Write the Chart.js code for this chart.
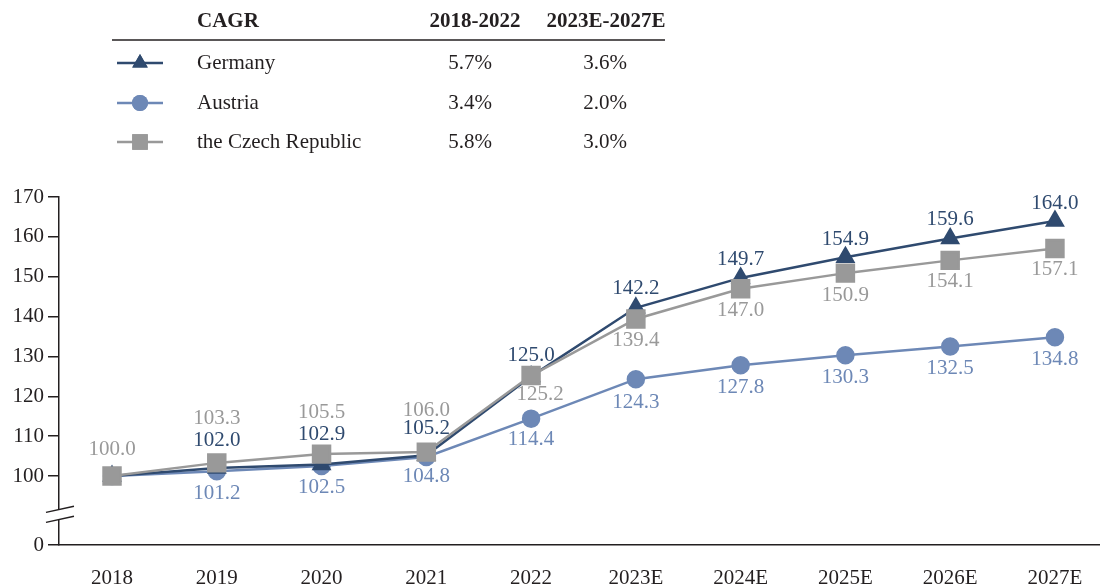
<!DOCTYPE html>
<html>
<head>
<meta charset="utf-8">
<script src="https://cdn.jsdelivr.net/npm/chart.js@4/dist/chart.umd.min.js"></script>
<style>
  html, body { margin: 0; padding: 0; background: #fff; }
  #wrap { width: 1100px; height: 588px; position: relative; }
</style>
</head>
<body>
<div id="wrap"><canvas id="chart" width="1100" height="588"></canvas></div>
<script>
const categories = ["2018", "2019", "2020", "2021", "2022", "2023E", "2024E", "2025E", "2026E", "2027E"];
const germany = [100.0, 102.0, 102.9, 105.2, 125.0, 142.2, 149.7, 154.9, 159.6, 164.0];
const austria = [100.0, 101.2, 102.5, 104.8, 114.4, 124.3, 127.8, 130.3, 132.5, 134.8];
const czech = [100.0, 103.3, 105.5, 106.0, 125.2, 139.4, 147.0, 150.9, 154.1, 157.1];

const seriesNames = ["Germany", "Austria", "the Czech Republic"];
const cagrHeaders = ["CAGR", "2018-2022", "2023E-2027E"];
const cagrHist = ["5.7%", "3.4%", "5.8%"];
const cagrFcst = ["3.6%", "2.0%", "3.0%"];

const yTicks = [0, 100, 110, 120, 130, 140, 150, 160, 170];
const breakValue = 82.7; // where the "0" tick sits below the axis break

const NAVY = "#2f4a6f";
const BLUE = "#6d88b6";
const GREY = "#999999";
const INK = "#231f20";
const FONT = "'Liberation Serif', 'DejaVu Serif', serif";
const FS = 21;

const toPoints = arr => arr.map((v, i) => ({ x: i, y: v }));

// label offsets (dy from point centre); null = no label
const labelPos = {
  0: { dy: [null, -28, -30, -27, -21, -19, -18, -18, -19, -17], dx: [] },
  1: { dy: [null, 22, 21, 20, 21, 23, 22, 22, 22, 22], dx: [] },
  2: { dy: [-27, -44, -42, -42, 19, 22, 22, 22, 21, 21], dx: [0, 0, 0, 0, 9] }
};

const labelsPlugin = {
  id: "pointLabels",
  afterDatasetsDraw(chart) {
    const ctx = chart.ctx;
    ctx.save();
    ctx.font = FS + "px " + FONT;
    ctx.textAlign = "center";
    ctx.textBaseline = "middle";
    chart.data.datasets.forEach((ds, di) => {
      const meta = chart.getDatasetMeta(di);
      const pos = labelPos[di];
      meta.data.forEach((pt, i) => {
        const dy = pos.dy[i];
        if (dy === null || dy === undefined) return;
        const dx = pos.dx[i] || 0;
        ctx.fillStyle = ds.borderColor;
        ctx.fillText(ds.data[i].y.toFixed(1), pt.x + dx, pt.y + dy);
      });
    });
    ctx.restore();
  }
};

const breakPlugin = {
  id: "axisBreak",
  afterDraw(chart) {
    const ctx = chart.ctx;
    const y = chart.scales.y;
    const x0 = chart.chartArea.left;
    const yMid = (y.getPixelForValue(100) + y.getPixelForValue(breakValue)) / 2 + 4;
    const slope = 0.22;
    const gap = 10;
    ctx.save();
    // white gap cutting the axis
    ctx.fillStyle = "#fff";
    ctx.beginPath();
    ctx.moveTo(x0 - 4, yMid - gap / 2 + 4 * slope);
    ctx.lineTo(x0 + 4, yMid - gap / 2 - 4 * slope);
    ctx.lineTo(x0 + 4, yMid + gap / 2 - 4 * slope);
    ctx.lineTo(x0 - 4, yMid + gap / 2 + 4 * slope);
    ctx.closePath();
    ctx.fill();
    ctx.strokeStyle = INK;
    ctx.lineWidth = 1.5;
    [-gap / 2, gap / 2].forEach(off => {
      ctx.beginPath();
      ctx.moveTo(x0 - 13, yMid + off + 13 * slope);
      ctx.lineTo(x0 + 15, yMid + off - 15 * slope);
      ctx.stroke();
    });
    ctx.restore();
  }
};

const tablePlugin = {
  id: "cagrTable",
  afterDraw(chart) {
    const ctx = chart.ctx;
    const colors = [NAVY, BLUE, GREY];
    const styles = ["triangle", "circle", "rect"];
    const rowsY = [63, 103, 142];
    ctx.save();
    ctx.fillStyle = INK;
    ctx.textBaseline = "middle";
    ctx.font = "bold " + FS + "px " + FONT;
    ctx.textAlign = "left";
    ctx.fillText(cagrHeaders[0], 197, 22);
    ctx.textAlign = "center";
    ctx.fillText(cagrHeaders[1], 475, 22);
    ctx.fillText(cagrHeaders[2], 606, 22);
    ctx.strokeStyle = INK;
    ctx.lineWidth = 1.5;
    ctx.beginPath();
    ctx.moveTo(112, 40);
    ctx.lineTo(665, 40);
    ctx.stroke();
    ctx.font = FS + "px " + FONT;
    seriesNames.forEach((name, i) => {
      const ry = rowsY[i];
      ctx.strokeStyle = colors[i];
      ctx.lineWidth = 2.5;
      ctx.beginPath();
      ctx.moveTo(117, ry);
      ctx.lineTo(163, ry);
      ctx.stroke();
      ctx.fillStyle = colors[i];
      Chart.helpers.drawPoint(ctx, { pointStyle: styles[i], radius: [9, 8, 11][i], rotation: 0, borderWidth: 0 }, 140, ry);
      ctx.fill();
      ctx.fillStyle = INK;
      ctx.textAlign = "left";
      ctx.fillText(name, 197, ry);
      ctx.textAlign = "center";
      ctx.fillText(cagrHist[i], 470, ry);
      ctx.fillText(cagrFcst[i], 605, ry);
    });
    ctx.restore();
  }
};

new Chart(document.getElementById("chart"), {
  type: "line",
  data: {
    datasets: [
      {
        label: seriesNames[0],
        data: toPoints(germany),
        borderColor: NAVY,
        backgroundColor: NAVY,
        pointStyle: "triangle",
        pointRadius: 9,
        borderWidth: 2.5,
        order: 1
      },
      {
        label: seriesNames[1],
        data: toPoints(austria),
        borderColor: BLUE,
        backgroundColor: BLUE,
        pointStyle: "circle",
        pointRadius: 8,
        borderWidth: 2.5,
        order: 2
      },
      {
        label: seriesNames[2],
        data: toPoints(czech),
        borderColor: GREY,
        backgroundColor: GREY,
        pointStyle: "rect",
        pointRadius: 12,
        borderWidth: 2.5,
        order: 0
      }
    ]
  },
  options: {
    responsive: false,
    animation: false,
    events: [],
    layout: { autoPadding: false, padding: { top: 197, left: 0, right: 0, bottom: 0 } },
    elements: { point: { borderWidth: 0, hoverRadius: 0 }, line: { tension: 0 } },
    plugins: { legend: { display: false }, tooltip: { enabled: false } },
    scales: {
      x: {
        type: "linear",
        min: -0.506,
        max: 9.43,
        afterBuildTicks(scale) {
          scale.ticks = categories.map((c, i) => ({ value: i }));
        },
        afterFit(scale) {
          scale.height = 43;
          scale.paddingLeft = 0;
          scale.paddingRight = 0;
        },
        grid: { display: false, drawTicks: false },
        border: { display: true, color: INK, width: 1.5 },
        ticks: {
          color: INK,
          font: { family: FONT, size: FS },
          padding: 21,
          maxRotation: 0,
          autoSkip: false,
          callback: v => categories[v]
        }
      },
      y: {
        min: breakValue,
        max: 170,
        afterBuildTicks(scale) {
          scale.ticks = yTicks.map(v => ({ value: v === 0 ? breakValue : v }));
        },
        afterFit(scale) {
          scale.width = 59;
          scale.paddingTop = 0;
          scale.paddingBottom = 0;
        },
        grid: { drawOnChartArea: false, color: INK, tickLength: 11, lineWidth: 1.5 },
        border: { display: true, color: INK, width: 1.5 },
        ticks: {
          color: INK,
          font: { family: FONT, size: FS },
          padding: 4,
          callback: v => (v === breakValue ? "0" : String(v))
        }
      }
    }
  },
  plugins: [labelsPlugin, breakPlugin, tablePlugin]
});
</script>
</body>
</html>
